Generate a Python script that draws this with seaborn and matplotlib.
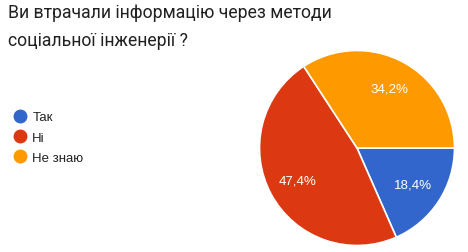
import matplotlib
matplotlib.use("Agg")
import matplotlib.pyplot as plt
from matplotlib.lines import Line2D
import numpy as np
import seaborn as sns

categories = ["Так", "Ні", "Не знаю"]
values = [18.4, 47.4, 34.2]
labels_pct = ["18,4%", "47,4%", "34,2%"]
title = "Ви втрачали інформацію через методи\nсоціальної інженерії ?"

sns.set_theme(style="white")
plt.rcParams['font.family'] = ['Roboto', 'DejaVu Sans']
colors = sns.color_palette(["#3366CC", "#DC3912", "#FF9900"])

W, H = 468, 253
fig = plt.figure(figsize=(W / 100, H / 100), dpi=100)
fig.patch.set_facecolor("white")

cx, cy, r = 357, 149, 97.5
ax = fig.add_axes([(cx - r) / W, (H - cy - r) / H, 2 * r / W, 2 * r / H])
wedges, texts = ax.pie(values, colors=colors, startangle=0, counterclock=False,
                       radius=1, wedgeprops=dict(edgecolor="white", linewidth=1.2))
for w, lab in zip(wedges, labels_pct):
    ang = np.deg2rad((w.theta1 + w.theta2) / 2)
    d = 0.69
    ax.text(d * np.cos(ang), d * np.sin(ang), lab, ha="center", va="center",
            color="white", fontsize=9.6, family=["Liberation Sans", "DejaVu Sans"])
ax.set_xlim(-1, 1)
ax.set_ylim(-1, 1)
ax.set_aspect("equal")
ax.axis("off")

fig.text(8 / W, 1 - 4 / H, title, ha="left", va="top", fontsize=12.7,
         color="#212121", linespacing=1.75)

handles = [Line2D([0], [0], marker="o", linestyle="", markersize=9,
                  markerfacecolor=c, markeredgecolor=c) for c in colors]
leg = fig.legend(handles, categories, loc="upper left",
                 bbox_to_anchor=(13.4 / W, 1 - 112 / H), frameon=False,
                 borderpad=0, borderaxespad=0,
                 handletextpad=0.43, labelspacing=0.62, handlelength=1.0,
                 prop=dict(family=["Liberation Sans", "DejaVu Sans"], size=9.5))
for t in leg.get_texts():
    t.set_color("#222222")

fig.savefig("out.png", dpi=100, facecolor="white")
